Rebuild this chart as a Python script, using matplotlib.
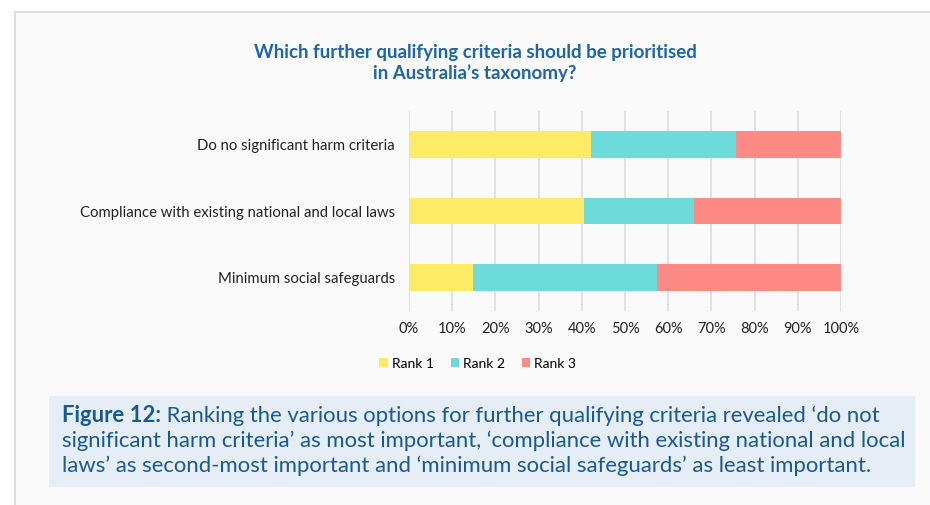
import numpy as np
import matplotlib.pyplot as plt
import matplotlib.ticker as ticker
from matplotlib.patches import Rectangle

categories = ["Do no significant harm criteria",
              "Compliance with existing national and local laws",
              "Minimum social safeguards"]
rank1 = [42.2, 40.4, 14.8]
rank2 = [33.5, 25.5, 42.6]
rank3 = [24.3, 34.1, 42.6]
series_names = ["Rank 1", "Rank 2", "Rank 3"]
colors = ["#fdeb66", "#6ddbda", "#fd8a84"]

title_txt = "Which further qualifying criteria should be prioritised\nin Australia\u2019s taxonomy?"
caption_bold = "Figure 12:"
caption_lines = [" Ranking the various options for further qualifying criteria revealed \u2018do not",
                 "significant harm criteria\u2019 as most important, \u2018compliance with existing national and local",
                 "laws\u2019 as second-most important and \u2018minimum social safeguards\u2019 as least important."]

plt.rcParams['font.family'] = ['Lato', 'DejaVu Sans']

W, H = 930, 505
fig = plt.figure(figsize=(W / 100, H / 100), dpi=100)
fig.patch.set_facecolor("white")

# outer panel, border only shows on top/left
fig.patches.append(Rectangle((15 / W, -0.05), 1, 1.05 - 12 / H, transform=fig.transFigure,
                             facecolor="#fafafa", edgecolor="#d6d6d6", lw=1.2, zorder=-10))

# caption box
fig.patches.append(Rectangle((49 / W, 1 - 487 / H), (915 - 49) / W, (487 - 396) / H,
                             transform=fig.transFigure, facecolor="#e5edf6",
                             edgecolor="none", zorder=-5))

ax = fig.add_axes([409 / W, 1 - 311 / H, (841 - 409) / W, 200 / H])
ax.set_facecolor("none")

y = np.arange(len(categories))
left = np.zeros(len(categories))
for vals, name, c in zip([rank1, rank2, rank3], series_names, colors):
    ax.barh(y, vals, left=left, height=0.4, color=c, label=name, zorder=3)
    left += np.array(vals)

ax.set_ylim(2.5, -0.5)
ax.set_xlim(0, 100)
ax.set_yticks(y)
ax.set_yticklabels(categories, fontsize=10.7, color="#222222")
ax.xaxis.set_major_locator(ticker.MultipleLocator(10))
ax.xaxis.set_major_formatter(ticker.FuncFormatter(lambda v, p: "%d%%" % v))
ax.tick_params(axis="x", labelsize=10.5, colors="#222222", length=0, pad=8)
ax.tick_params(axis="y", length=0, pad=10)
ax.grid(axis="x", color="#dcdce0", lw=1.2, zorder=0)
for s in ax.spines.values():
    s.set_visible(False)

ax.legend(loc="upper center", bbox_to_anchor=(0.159, -0.17), ncol=3, frameon=False,
          fontsize=10, handlelength=0.6, handleheight=0.6, handletextpad=0.3,
          columnspacing=1.2)

fig.text(475 / W, 1 - 63 / H, title_txt, ha="center", va="center", fontsize=13.5,
         fontweight="bold", color="#1f65a8", linespacing=1.15)

# caption, bold lead-in then regular text
cap_color = "#1b5a8e"
x0 = 62 / W
t = fig.text(x0, 1 - 422 / H, caption_bold, ha="left", va="baseline", fontsize=15.9,
             fontweight="bold", color=cap_color)
fig.canvas.draw()
bb = t.get_window_extent()
fig.text(bb.x1 / W, 1 - 422 / H, caption_lines[0], ha="left", va="baseline",
         fontsize=15.9, color=cap_color)
for i, line in enumerate(caption_lines[1:]):
    fig.text(x0, 1 - (447 + 25 * i) / H, line, ha="left", va="baseline",
             fontsize=15.9, color=cap_color)

fig.savefig("out.png", dpi=100, facecolor=fig.get_facecolor())
